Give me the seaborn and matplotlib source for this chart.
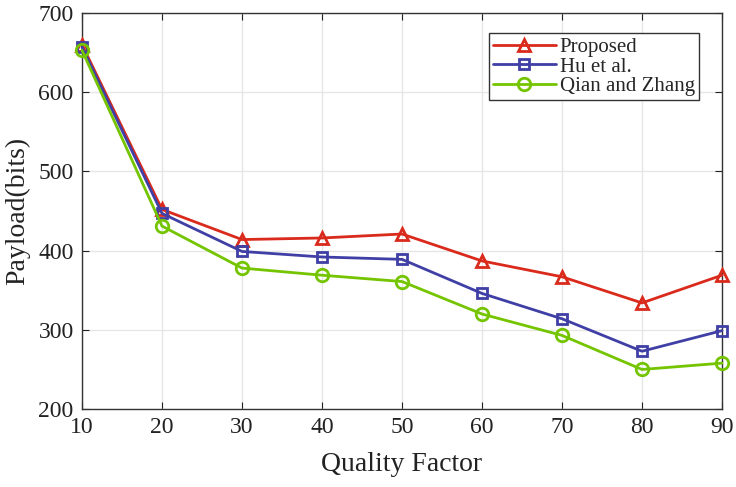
import matplotlib
matplotlib.use("Agg")
from matplotlib import pyplot as plt
import pandas as pd
import seaborn as sns

quality = [10, 20, 30, 40, 50, 60, 70, 80, 90]
proposed = [660, 452, 414, 416, 421, 387, 367, 334, 369]
hu = [657, 447, 399, 392, 389, 346, 314, 273, 299]
qian = [653, 431, 378, 369, 361, 320, 293, 250, 258]
methods = ["Proposed", "Hu et al.", "Qian and Zhang"]

df = pd.DataFrame({
    "Quality Factor": quality * 3,
    "Payload": proposed + hu + qian,
    "Method": [m for m in methods for _ in quality],
})

sns.set_style("ticks")
plt.rcParams["font.family"] = ["Liberation Serif", "DejaVu Serif"]

colors = {"Proposed": "#d92a1c", "Hu et al.": "#3f3fa6", "Qian and Zhang": "#74c400"}
markers = {"Proposed": "^", "Hu et al.": "s", "Qian and Zhang": "o"}

fig = plt.figure(figsize=(7.36, 4.87), dpi=100)
ax = fig.add_axes([0.1114, 0.160, 0.8696, 0.8133])
for m in methods:
    sub = df[df["Method"] == m]
    sns.lineplot(data=sub, x="Quality Factor", y="Payload", ax=ax, color=colors[m],
                 marker=markers[m], markersize=9 if m != "Hu et al." else 7,
                 markerfacecolor="none", markeredgecolor=colors[m], markeredgewidth=2,
                 linewidth=2, label=m, clip_on=False, zorder=3)

ax.set_xlim(10, 90)
ax.set_ylim(200, 700)
ax.set_xticks(quality)
ax.set_yticks([200, 300, 400, 500, 600, 700])
ax.grid(True, color="#e6e6e6", linewidth=1)
ax.set_axisbelow(True)
for s in ax.spines.values():
    s.set_color("#333333")
    s.set_linewidth(1)
ax.tick_params(direction="in", labelsize=17, colors="#222222", length=5,
               top=True, right=True, pad=6)
ax.set_xlabel("Quality Factor", fontsize=20, color="#222222", labelpad=10)
ax.set_ylabel("Payload(bits)", fontsize=20, color="#222222", labelpad=6)

leg = ax.legend(loc="upper right", fontsize=15, frameon=True, fancybox=False,
                edgecolor="#333333", framealpha=1, borderpad=0.2, labelspacing=0.0,
                handlelength=3.0, handletextpad=0.2, borderaxespad=0,
                bbox_to_anchor=(0.964, 0.949))
leg.get_frame().set_linewidth(1)

fig.savefig("out.png", dpi=100)
